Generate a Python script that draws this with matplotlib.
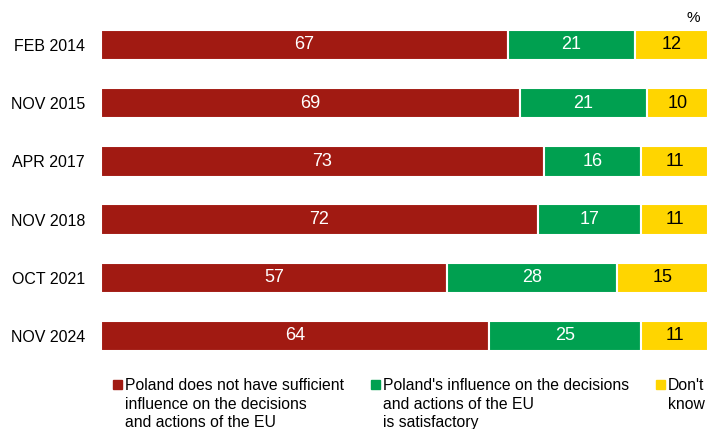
import matplotlib
matplotlib.use('Agg')
import matplotlib.pyplot as plt
import numpy as np

periods = ['FEB 2014', 'NOV 2015', 'APR 2017', 'NOV 2018', 'OCT 2021', 'NOV 2024']
not_sufficient = [67, 69, 73, 72, 57, 64]
satisfactory = [21, 21, 16, 17, 28, 25]
dont_know = [12, 10, 11, 11, 15, 11]

legend_labels = ['Poland does not have sufficient\ninfluence on the decisions\nand actions of the EU',
                 "Poland's influence on the decisions\nand actions of the EU\nis satisfactory",
                 "Don't\nknow"]
colors = ['#A11A12', '#00A050', '#FFD500']
text_colors = ['white', 'white', 'black']

plt.rcParams['font.family'] = ['Liberation Sans', 'DejaVu Sans']

fig = plt.figure(figsize=(7.1, 4.29), dpi=100)
ax = fig.add_axes([101 / 710, 0.149, 607 / 710, 0.814])

y = np.arange(len(periods))
series = [not_sufficient, satisfactory, dont_know]
left = np.zeros(len(periods))
for vals, c, tc in zip(series, colors, text_colors):
    vals = np.array(vals, dtype=float)
    ax.barh(y, vals, left=left, height=0.52, color=c, edgecolor='white', linewidth=1.5)
    for yi, l, v in zip(y, left, vals):
        ax.text(l + v / 2, yi, str(int(v)), ha='center', va='center', color=tc, fontsize=13)
    left += vals

ax.set_xlim(0, 100)
ax.set_ylim(5.5, -0.5)
ax.set_yticks(y)
ax.set_yticklabels(periods, fontsize=11.5)
ax.tick_params(axis='y', length=0, pad=11.5)
ax.set_xticks([])
for s in ax.spines.values():
    s.set_visible(False)

fig.text(0.986, 0.958, '%', ha='right', va='center', fontsize=11)

# legend drawn by hand
sq_x = [113, 371, 656]
for sx, lab, c in zip(sq_x, legend_labels, colors):
    fig.patches.append(plt.Rectangle((sx / 710, 40 / 429), 9 / 710, 9 / 429, color=c,
                                     transform=fig.transFigure))
    fig.text((sx + 12) / 710, 1 - 378 / 429, lab, ha='left', va='top', fontsize=11.3,
             linespacing=1.3)

fig.savefig('out.png', dpi=100)
